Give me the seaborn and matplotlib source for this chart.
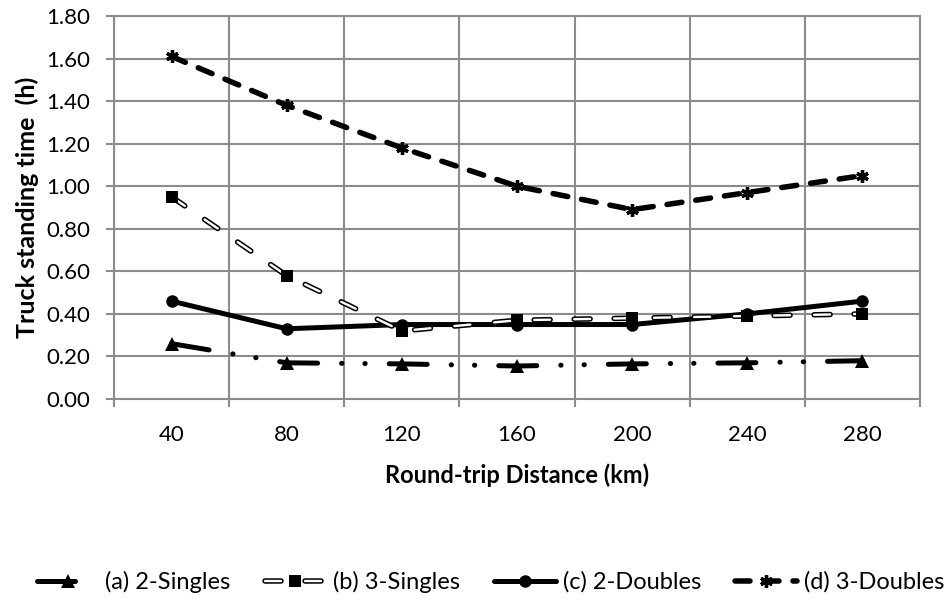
import matplotlib
matplotlib.use("Agg")
import matplotlib.pyplot as plt
from matplotlib.ticker import FixedLocator, MultipleLocator, FormatStrFormatter
import seaborn as sns

# Round-trip distances (km) and standing times (h) per configuration
distances = ["40", "80", "120", "160", "200", "240", "280"]
singles_2 = [0.26, 0.17, 0.165, 0.155, 0.165, 0.17, 0.18]
singles_3 = [0.95, 0.58, 0.32, 0.37, 0.38, 0.39, 0.40]
doubles_2 = [0.46, 0.33, 0.35, 0.35, 0.35, 0.40, 0.46]
doubles_3 = [1.61, 1.38, 1.18, 1.00, 0.89, 0.97, 1.05]
series_labels = ["(a) 2-Singles", "(b) 3-Singles", "(c) 2-Doubles", "(d) 3-Doubles"]

sns.set_theme(style="white")
plt.rcParams["font.family"] = ["Lato", "DejaVu Sans"]
plt.rcParams["lines.scale_dashes"] = False
plt.rcParams["lines.dash_capstyle"] = "round"
plt.rcParams["lines.solid_capstyle"] = "round"
for key in ("text.color", "axes.labelcolor", "xtick.labelcolor", "ytick.labelcolor"):
    plt.rcParams[key] = "black"

W, H = 947, 609
fig = plt.figure(figsize=(W / 100, H / 100), dpi=100)
ax = fig.add_axes([114 / W, 1 - 399 / H, (920 - 114) / W, (399 - 16) / H])

grid_c = "#8c8c8c"
px = 0.72  # points per pixel

# (a) long dash / dot / dot
sns.lineplot(x=distances, y=singles_2, ax=ax, color="black", lw=5 * px,
             linestyle=(0, (38 * px, 24 * px, 0.3 * px, 23 * px, 0.3 * px, 24 * px)),
             marker="^", markersize=9.5, markeredgewidth=0, zorder=3)
# (b) hollow dashes: thick black dashes with a thin white core
b_on, b_off = 16 * px, 24 * px
sns.lineplot(x=distances, y=singles_3, ax=ax, color="black", lw=5.5 * px,
             linestyle=(0, (b_on, b_off)), zorder=3)
sns.lineplot(x=distances, y=singles_3, ax=ax, color="white", lw=2.4 * px,
             linestyle=(0, (b_on, b_off)), zorder=3.1)
sns.lineplot(x=distances, y=singles_3, ax=ax, color="black", linestyle="none",
             marker="s", markersize=8, markeredgewidth=0, zorder=3.2)
# (c) solid
sns.lineplot(x=distances, y=doubles_2, ax=ax, color="black", lw=5 * px,
             marker="o", markersize=9, markeredgewidth=0, zorder=3)
# (d) dashed with star markers
sns.lineplot(x=distances, y=doubles_3, ax=ax, color="black", lw=5.5 * px,
             linestyle=(0, (15 * px, 14 * px)),
             marker=(6, 2, 0), markersize=9, markeredgewidth=2.4,
             markeredgecolor="black", zorder=3)

ax.set_xlim(-0.5, len(distances) - 0.5)
ax.set_ylim(0, 1.8)
ax.yaxis.set_major_locator(MultipleLocator(0.2))
ax.yaxis.set_major_formatter(FormatStrFormatter("%.2f"))

# vertical grid on category boundaries
bounds = [i - 0.5 for i in range(len(distances) + 1)]
ax.xaxis.set_minor_locator(FixedLocator(bounds))
ax.grid(True, axis="y", which="major", color=grid_c, lw=1.5)
ax.grid(True, axis="x", which="minor", color=grid_c, lw=1.5)
ax.set_axisbelow(True)
for s in ax.spines.values():
    s.set_color(grid_c)
    s.set_linewidth(1.5)

ax.tick_params(axis="x", which="major", length=0, pad=19, labelsize=16)
ax.tick_params(axis="x", which="minor", length=6, width=1.5, color=grid_c, bottom=True)
ax.tick_params(axis="y", which="major", length=6, width=1.5, color=grid_c,
               left=True, pad=11, labelsize=16)

ax.set_xlabel("Round-trip Distance (km)", fontsize=17, fontweight="bold", labelpad=13)
ax.set_ylabel("Truck standing time  (h)", fontsize=18, fontweight="bold", labelpad=5)

lines = ax.get_lines()
handles = [lines[0], (lines[1], lines[2], lines[3]), lines[4], lines[5]]
fig.legend(handles, series_labels, loc="center", bbox_to_anchor=(0.518, 1 - 582 / H),
           ncol=4, frameon=False, fontsize=17, handlelength=2.6, handletextpad=0.3,
           columnspacing=1.45, numpoints=1)

fig.savefig("out.png", dpi=100)
